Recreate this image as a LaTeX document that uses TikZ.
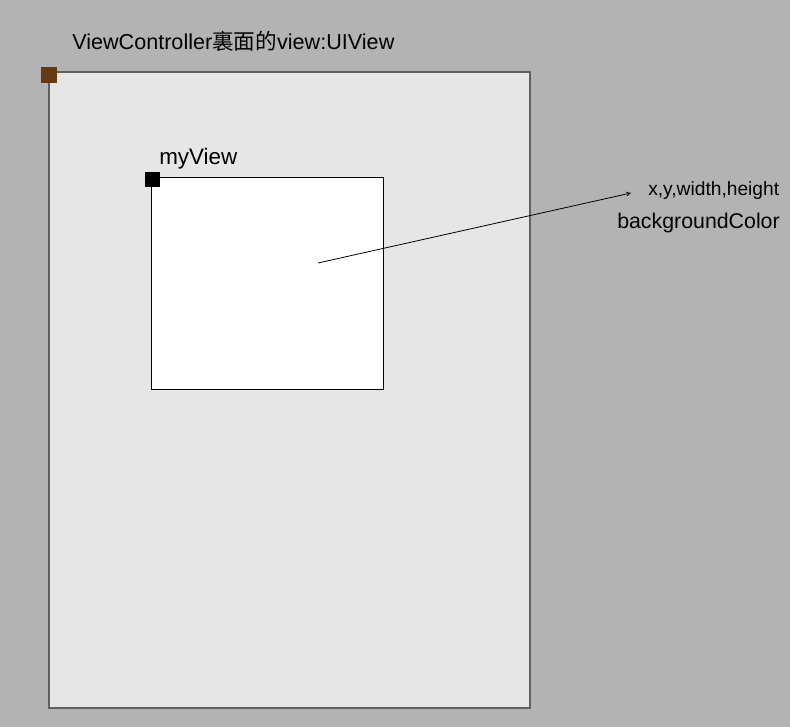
\documentclass[tikz,border=0pt]{standalone}
\usepackage{fontspec}
\setmainfont{Liberation Sans}
\newfontfamily\cjk{Noto Sans CJK TC}
\usetikzlibrary{arrows}
\definecolor{bggray}{HTML}{B3B3B3}
\definecolor{viewgray}{HTML}{E6E6E6}
\definecolor{edgegray}{HTML}{606060}
\definecolor{cornerbrown}{HTML}{643C14}
\tikzstyle{arrow} = [line width=0.6pt,->,>=stealth]
\tikzstyle{label} = [inner sep=0pt, anchor=west]

\begin{document}
\begin{tikzpicture}[x=0.75pt,y=-0.75pt]

        %background
        \fill [bggray] (0,0) rectangle (790,727);

        %controller view
        \draw [edgegray, fill=viewgray, line width=1.5pt] (49,72) rectangle (530,708);
        \fill [cornerbrown] (41,67) rectangle (57,83);
        \node at (72,41) [label, font=\fontsize{16.2}{18}\selectfont] (vclabel) {ViewController{\cjk 裏面的}view:UIView};

        %myView
        \draw [black, fill=white, line width=0.75pt] (151,178) rectangle (383,390);
        \fill [black] (145,172) rectangle (160,187);
        \node at (159,159) [label, font=\fontsize{16.8}{18}\selectfont] (myview) {myView};

        %properties
        \node at (648,191) [label, font=\fontsize{14.4}{16}\selectfont] (frame) {x,y,width,height};
        \node at (617,223) [label, font=\fontsize{16}{18}\selectfont] (bgcolor) {backgroundColor};

        \coordinate (tail) at (318,263);
        \coordinate (tip) at (631,193);
        \draw [arrow] (tail) -- (tip);

\end{tikzpicture}
\end{document}
